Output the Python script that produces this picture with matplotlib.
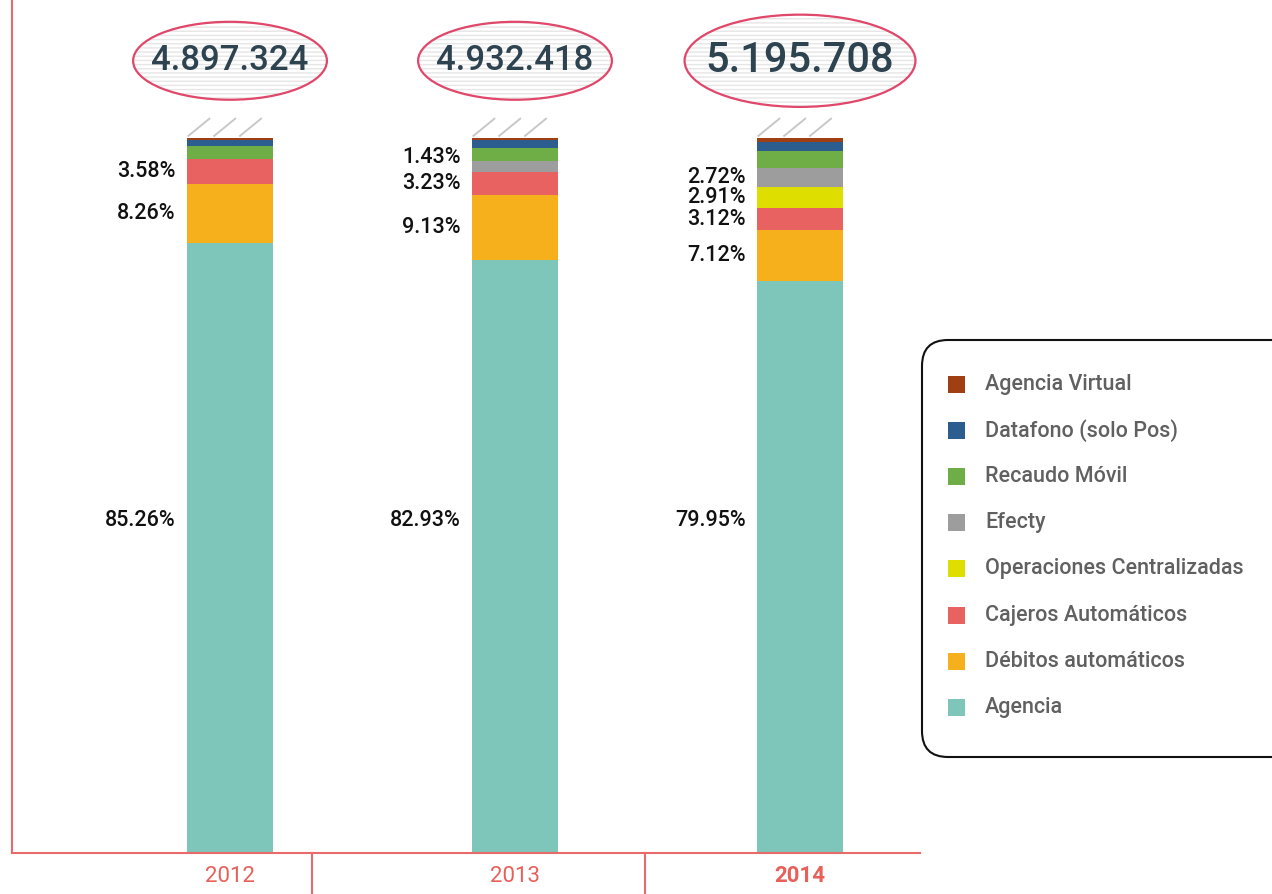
import matplotlib
matplotlib.use('Agg')
import matplotlib.pyplot as plt
from matplotlib.patches import Ellipse, FancyBboxPatch, Rectangle
from matplotlib.lines import Line2D
import numpy as np

# datos
years = ['2012', '2013', '2014']
totals = [4897324, 4932418, 5195708]
series = ['Agencia', 'Débitos automáticos', 'Cajeros Automáticos',
          'Operaciones Centralizadas', 'Efecty', 'Recaudo Móvil',
          'Datafono (solo Pos)', 'Agencia Virtual']
agencia = [85.26, 82.93, 79.95]
debitos = [8.26, 9.13, 7.12]
cajeros = [3.58, 3.23, 3.12]
operaciones = [0.0, 0.0, 2.91]
efecty = [0.0, 1.43, 2.72]
recaudo = [1.72, 1.85, 2.30]
datafono = [0.90, 1.13, 1.35]
virtual = [0.28, 0.30, 0.53]
# etiquetas mostradas en el grafico
labelled = {'Agencia', 'Débitos automáticos', 'Cajeros Automáticos',
            'Operaciones Centralizadas', 'Efecty'}

values = [agencia, debitos, cajeros, operaciones, efecty, recaudo, datafono, virtual]
colors = ['#7ec6b9', '#f6b01c', '#e86262', '#dede00', '#9d9d9d',
          '#6fae46', '#2b5d8f', '#a03f14']

plt.rcParams['font.family'] = ['Roboto', 'DejaVu Sans']

W, H = 1272, 894
fig = plt.figure(figsize=(W / 100, H / 100), dpi=100)
ax = fig.add_axes([12 / W, 41 / H, 908 / W, 853 / H])

x = np.arange(len(years))
width = 0.302
bottom = np.zeros(len(years))
for name, vals, col in zip(series, values, colors):
    vals = np.array(vals)
    ax.bar(x, vals, width, bottom=bottom, color=col, linewidth=0)
    if name in labelled:
        for i in range(len(years)):
            if vals[i] <= 0:
                continue
            yc = bottom[i] + vals[i] / 2
            if name == 'Agencia':
                yc = 46.5
            if name == 'Efecty' and years[i] == '2013':
                yc += 1.3
            ax.text(x[i] - width / 2 - 0.04, yc, f'{vals[i]:.2f}%',
                    ha='right', va='center', fontsize=15.5, fontweight='medium',
                    color='#111111')
    bottom += vals

# rayado encima de las barras
for i in range(len(years)):
    left = x[i] - width / 2
    for k in range(3):
        x0 = left + k * width * 0.3
        ax.add_line(Line2D([x0 + 0.005, x0 + width * 0.26], [bottom[i] + 0.3, bottom[i] + 2.7],
                           color='#c8c8c8', lw=1.4))

# totales en elipses
for i in range(len(years)):
    big = i == len(years) - 1
    ew, eh = (0.81, 12.9) if big else (0.68, 10.9)
    yc = 110.8
    ax.add_patch(Ellipse((x[i], yc), ew, eh, facecolor='white', edgecolor='#e6e6e6',
                         hatch='----', linewidth=0))
    ax.add_patch(Ellipse((x[i], yc), ew, eh, facecolor='none', edgecolor='#e0476a',
                         linewidth=1.6))
    txt = f'{totals[i]:,}'.replace(',', '.')
    ax.text(x[i], yc, txt, ha='center', va='center', color='#2e4350',
            fontsize=30 if big else 25, fontweight='medium')

ax.set_xlim(-0.765, 2.421)
ax.set_ylim(0, 853 / 7.15)
for s in ['top', 'right']:
    ax.spines[s].set_visible(False)
for s in ['left', 'bottom']:
    ax.spines[s].set_color('#e86a6a')
    ax.spines[s].set_linewidth(1.5)
ax.set_yticks([])
ax.set_xticks(x)
ax.set_xticklabels(years, color='#e8605a', fontsize=16)
ax.get_xticklabels()[-1].set_fontweight('bold')
ax.tick_params(axis='x', length=0, pad=9)

# separadores bajo el eje
for sx in [0.288, 1.456]:
    ax.add_line(Line2D([sx, sx], [0, -0.06], transform=ax.get_xaxis_transform(),
                       color='#e86a6a', lw=1.5, clip_on=False))

# leyenda
fig.patches.append(FancyBboxPatch((922, H - 757), 380, 417,
                                  boxstyle='round,pad=0,rounding_size=26',
                                  facecolor='white', edgecolor='#111111', lw=1.5,
                                  transform=None, figure=fig))
for j, (name, col) in enumerate(zip(series[::-1], colors[::-1])):
    yy = H - (384 + j * 46.2)
    fig.patches.append(Rectangle((948, yy - 8.5), 17, 17, facecolor=col, lw=0,
                                 transform=None, figure=fig))
    fig.text(985 / W, yy / H, name, ha='left', va='center', fontsize=15.5,
             fontweight='medium', color='#606060')

fig.savefig('out.png', dpi=100)
